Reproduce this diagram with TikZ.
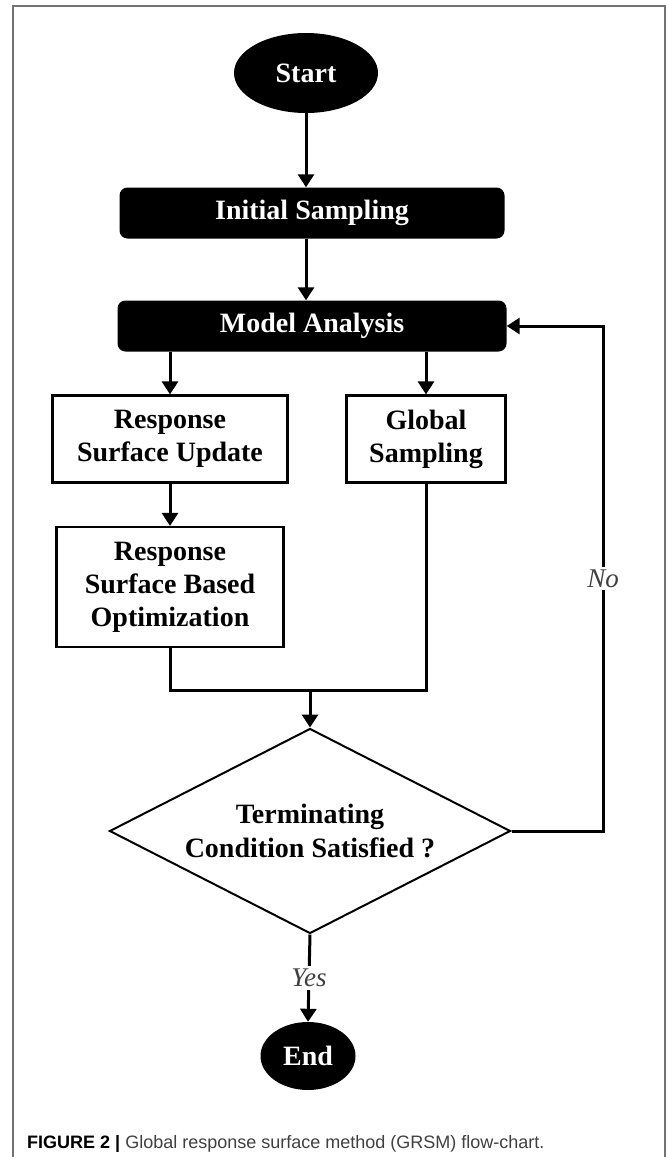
\documentclass[tikz,border=0pt]{standalone}
\usepackage{fontspec}
\setmainfont{Liberation Serif}
\setsansfont{Liberation Sans}
\usepackage{tikz}
\usetikzlibrary{arrows.meta, shapes.geometric}

\begin{document}
\begin{tikzpicture}[x=1pt, y=-1pt,
        terminal/.style={ellipse, fill=black, text=white, inner sep=0pt, font=\fontsize{28}{33}\selectfont\bfseries},
        blackbox/.style={rectangle, rounded corners=8pt, fill=black, text=white, minimum height=51pt, font=\fontsize{28}{33}\selectfont\bfseries},
        whitebox/.style={rectangle, draw, line width=2.2pt, align=center, inner sep=0pt, font=\fontsize{28}{33}\selectfont\bfseries},
        flow/.style={-{Triangle[length=13pt, width=16pt]}, line width=3pt},
        link/.style={line width=3pt},
        answer/.style={fill=white, text=black!75, inner sep=3pt, font=\fontsize{27}{30}\selectfont\itshape}]
        \useasboundingbox (0, 0) rectangle (667, 1157);
        \draw [black!55, line width=1.2pt] (13, 1157) -- (13, 6) -- (665, 6) -- (665, 1157);

        \node[terminal, minimum width=144pt, minimum height=80pt] at (306, 73) (start) {Start};
        \node[blackbox, minimum width=385pt] at (312, 213) (init) {Initial Sampling};
        \node[blackbox, minimum width=389pt] at (312, 326) (model) {Model Analysis};
        \node[whitebox, minimum width=235pt, minimum height=87pt] at (170, 439) (update) {Response\\Surface Update};
        \node[whitebox, minimum width=159pt, minimum height=87pt] at (426, 439) (global) {Global\\Sampling};
        \node[whitebox, minimum width=227pt, minimum height=120pt] at (170, 587) (optim) {Response\\Surface Based\\Optimization};
        \node[diamond, aspect=1.96, draw, line width=2pt, minimum width=401pt, minimum height=205pt, inner sep=0pt, align=center,
              font=\fontsize{28}{34}\selectfont\bfseries] at (310, 831) (check) {Terminating\\Condition Satisfied ?};
        \node[terminal, minimum width=95pt, minimum height=68pt] at (308, 1056) (end) {End};
        \coordinate (join) at (310, 690);
        \coordinate (back) at (603, 326);

        \draw [flow] (start) -- (start |- init.north);
        \draw [flow] (start |- init.south) -- (start |- model.north);
        \draw [flow] (update |- model.south) -- (update);
        \draw [flow] (global |- model.south) -- (global);
        \draw [flow] (update) -- (optim);
        \draw [link] (optim.south) |- (join) -| (global.south);
        \draw [flow] (join) -- (check.north);
        \draw [flow] (check.east) -| (back) node[answer, pos=0.75] {No} -- (model.east);
        \draw [flow] (check.south) -- (end.north) node[answer, midway] {Yes};

        \node[anchor=base west, inner sep=0pt, font=\sffamily\fontsize{18}{22}\selectfont] at (27, 1148) (caption)
            {\textbf{FIGURE 2 |} \textcolor{black!75}{Global response surface method (GRSM) flow-chart.}};
    \end{tikzpicture}
\end{document}
